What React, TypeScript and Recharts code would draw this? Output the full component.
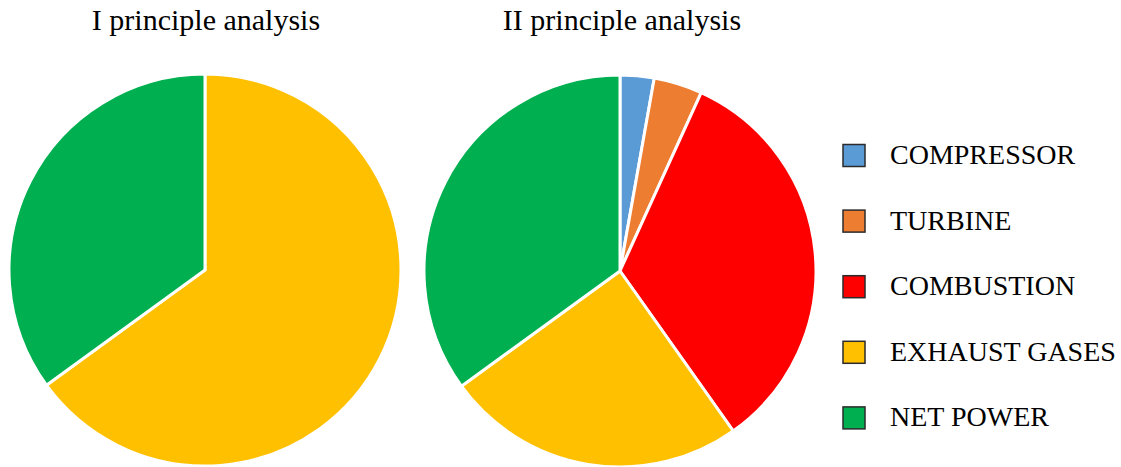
import React from "react";
import { PieChart, Pie, Cell } from "recharts";

// Energy balance (first law) and exergy balance (second law) of the plant, in %
const energyCategories = ["EXHAUST GASES", "NET POWER"];
const energyValues = [65.0, 35.0];

const exergyCategories = ["COMPRESSOR", "TURBINE", "COMBUSTION", "EXHAUST GASES", "NET POWER"];
const exergyValues = [2.8, 4.0, 33.4, 24.8, 35.0];

const chartTitles = ["I principle analysis", "II principle analysis"];

const legendLabels = ["COMPRESSOR", "TURBINE", "COMBUSTION", "EXHAUST GASES", "NET POWER"];

const palette: Record<string, string> = {
  COMPRESSOR: "#5B9BD5",
  TURBINE: "#ED7D31",
  COMBUSTION: "#FF0000",
  "EXHAUST GASES": "#FFC000",
  "NET POWER": "#00B050",
};

const energyData = energyCategories.map((name, i) => ({ name, value: energyValues[i] }));
const exergyData = exergyCategories.map((name, i) => ({ name, value: exergyValues[i] }));

const FONT = "'Liberation Serif', 'DejaVu Serif', serif";
const W = 1121;
const H = 467;

export default function App() {
  return (
    <div style={{ position: "absolute", left: 0, top: 0, width: W, height: H, background: "#fff" }}>
      <PieChart width={W} height={H} margin={{ top: 0, right: 0, bottom: 0, left: 0 }}>
        <Pie
          data={energyData}
          dataKey="value"
          nameKey="name"
          cx={205}
          cy={270}
          outerRadius={196}
          startAngle={90}
          endAngle={-270}
          stroke="#ffffff"
          strokeWidth={3}
          isAnimationActive={false}
        >
          {energyData.map((d) => (
            <Cell key={d.name} fill={palette[d.name]} />
          ))}
        </Pie>
        <Pie
          data={exergyData}
          dataKey="value"
          nameKey="name"
          cx={620}
          cy={271}
          outerRadius={196}
          startAngle={90}
          endAngle={-270}
          stroke="#ffffff"
          strokeWidth={3}
          isAnimationActive={false}
        >
          {exergyData.map((d) => (
            <Cell key={d.name} fill={palette[d.name]} />
          ))}
        </Pie>
      </PieChart>
      <svg
        width={W}
        height={H}
        style={{ position: "absolute", left: 0, top: 0, pointerEvents: "none" }}
      >
        <text x={206} y={30} textAnchor="middle" fontFamily={FONT} fontSize={30} fill="#000">
          {chartTitles[0]}
        </text>
        <text x={622} y={30} textAnchor="middle" fontFamily={FONT} fontSize={30} fill="#000">
          {chartTitles[1]}
        </text>
        {legendLabels.map((label, i) => {
          const cyRow = 155.5 + i * 65.6;
          return (
            <g key={label}>
              <rect
                x={843}
                y={cyRow - 11}
                width={22}
                height={22}
                fill={palette[label]}
                stroke="#2b2b2b"
                strokeWidth={1.5}
              />
              <text x={890} y={cyRow + 8.5} fontFamily={FONT} fontSize={28} fill="#000">
                {label}
              </text>
            </g>
          );
        })}
      </svg>
    </div>
  );
}
